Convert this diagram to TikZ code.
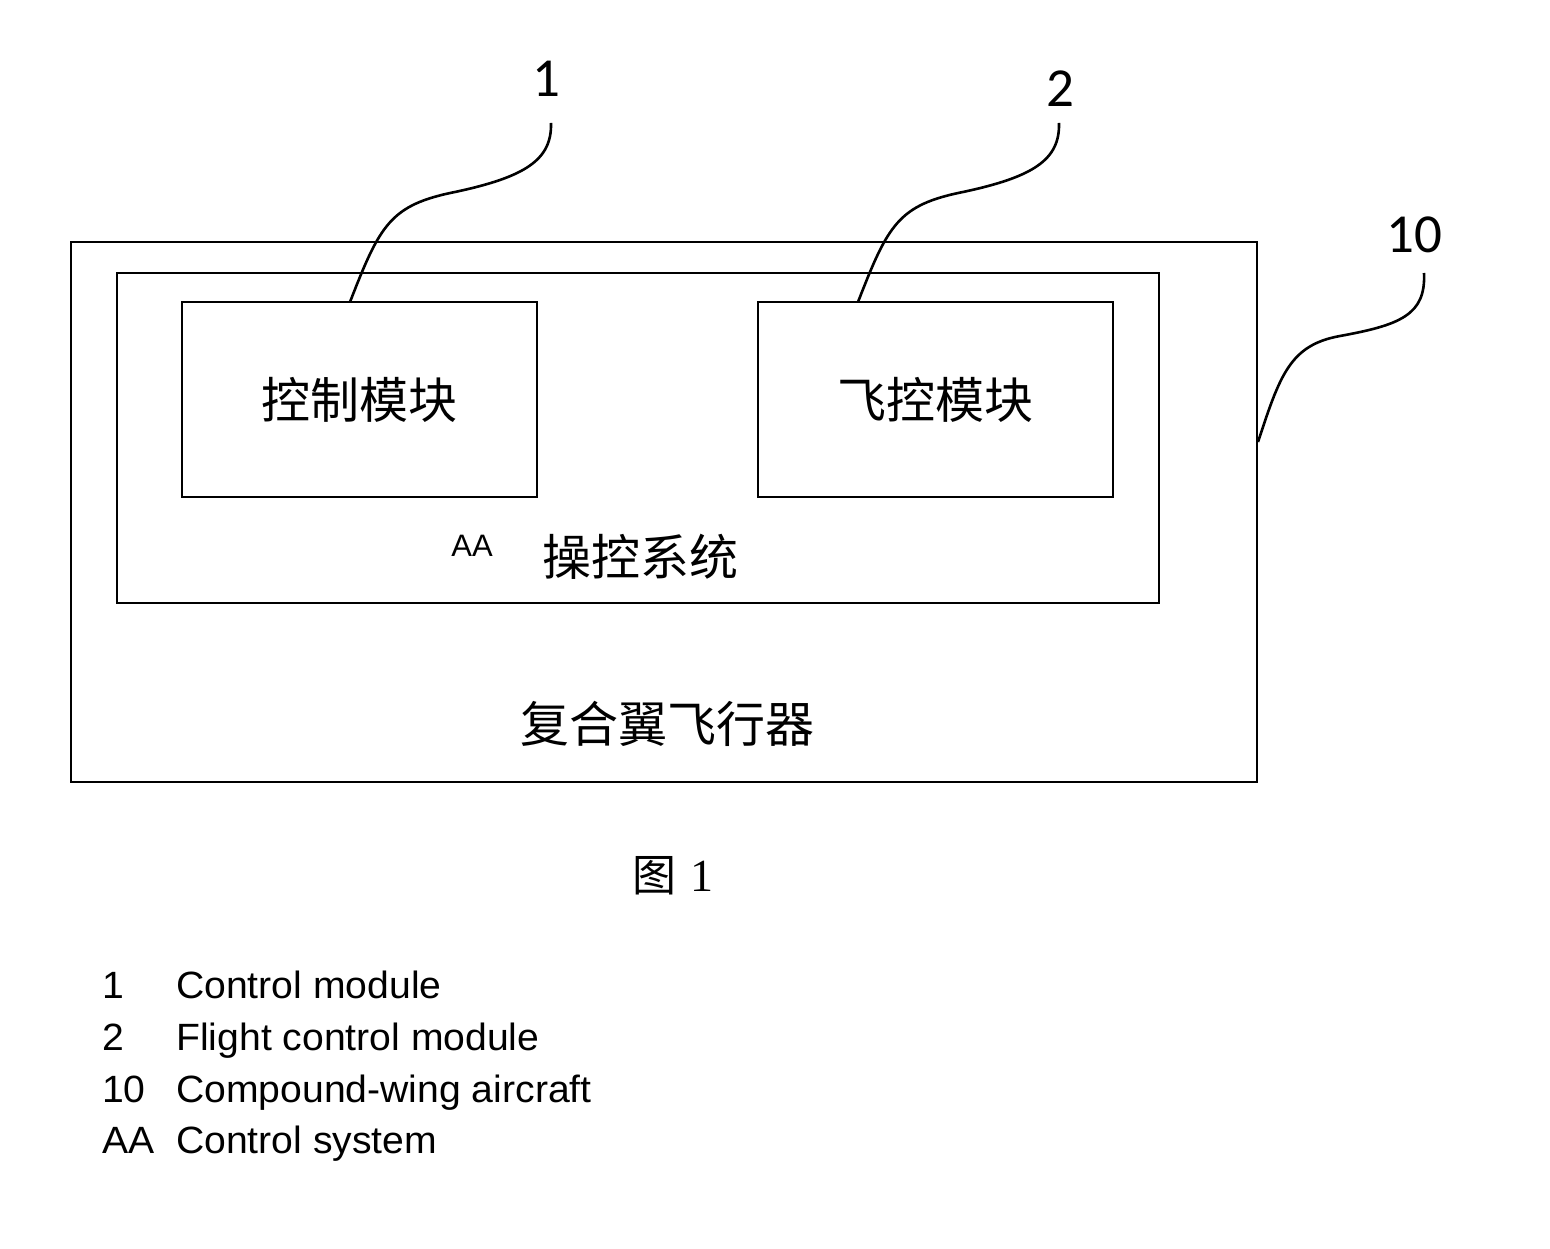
\documentclass[tikz,border=0pt]{standalone}
\usepackage{fontspec}
\setmainfont{Liberation Sans}
\newfontfamily\legfont[FakeStretch=1.03]{Liberation Sans}
\newfontfamily\cjk{Noto Sans CJK SC}
\newfontfamily\calib{Carlito}
\newfontfamily\tnr{Liberation Serif}
\begin{document}
\begin{tikzpicture}[x=1pt,y=-1pt,
  frame/.style={draw, line width=1.1pt, inner sep=0pt},
  leader/.style={draw, line width=2.6pt},
  refnum/.style={inner sep=0pt, font=\calib\fontsize{55}{60}\selectfont},
  cjktext/.style={inner sep=0pt, font=\cjk\fontsize{49}{54}\selectfont},
  legend/.style={inner sep=0pt, anchor=base west, font=\legfont\fontsize{38}{42}\selectfont}]
\path[use as bounding box, fill=white] (0,0) rectangle (1550,1249);
% boxes
\node[frame, minimum width=1186pt, minimum height=540pt] (outer) at (664,512) {};
\node[frame, minimum width=1042pt, minimum height=330pt] (inner) at (638,438) {};
\node[frame, minimum width=355pt, minimum height=195pt, cjktext] (box1) at (359.5,399.5) {控制模块};
\node[frame, minimum width=355pt, minimum height=195pt, cjktext] (box2) at (935.5,399.5) {飞控模块};
% texts
\node[inner sep=0pt, font=\fontsize{31}{34}\selectfont] (aa) at (472,546) {AA};
\node[cjktext] (sys) at (640,557) {操控系统};
\node[cjktext] (craft) at (667,724) {复合翼飞行器};
% reference numerals
\node[refnum] (l1) at (546,79) {1};
\node[refnum] (l2) at (1060,89) {2};
\node[refnum] (l10) at (1414,235) {10};
% leader lines
\coordinate (s1) at (350,302);
\coordinate (e1) at (551,123);
\coordinate (s2) at (858,302);
\coordinate (e2) at (1059,123);
\coordinate (s10) at (1258,442);
\coordinate (e10) at (1424,273);
\draw[leader] (s1) .. controls (380,225) and (390,205) .. (455,192) .. controls (525,177) and (552,160) .. (e1);
\draw[leader] (s2) .. controls (888,225) and (898,205) .. (963,192) .. controls (1033,177) and (1060,160) .. (e2);
\draw[leader] (s10) .. controls (1280,375) and (1290,345) .. (1340,336) .. controls (1400,325) and (1426,315) .. (e10);
% caption
\node[inner sep=0pt, font=\cjk\fontsize{44}{48}\selectfont] (fig) at (654,876) {图};
\node[inner sep=0pt, font=\tnr\fontsize{46}{50}\selectfont] (fignum) at (702,876) {1};
% legend
\node[legend] (n1) at (102,998) {1};
\node[legend] (t1) at (176,998) {Control module};
\node[legend] (n2) at (102,1050) {2};
\node[legend] (t2) at (176,1050) {Flight control module};
\node[legend] (n3) at (102,1102) {10};
\node[legend] (t3) at (176,1102) {Compound-wing aircraft};
\node[legend] (n4) at (102,1153) {AA};
\node[legend] (t4) at (176,1153) {Control system};
\end{tikzpicture}
\end{document}
